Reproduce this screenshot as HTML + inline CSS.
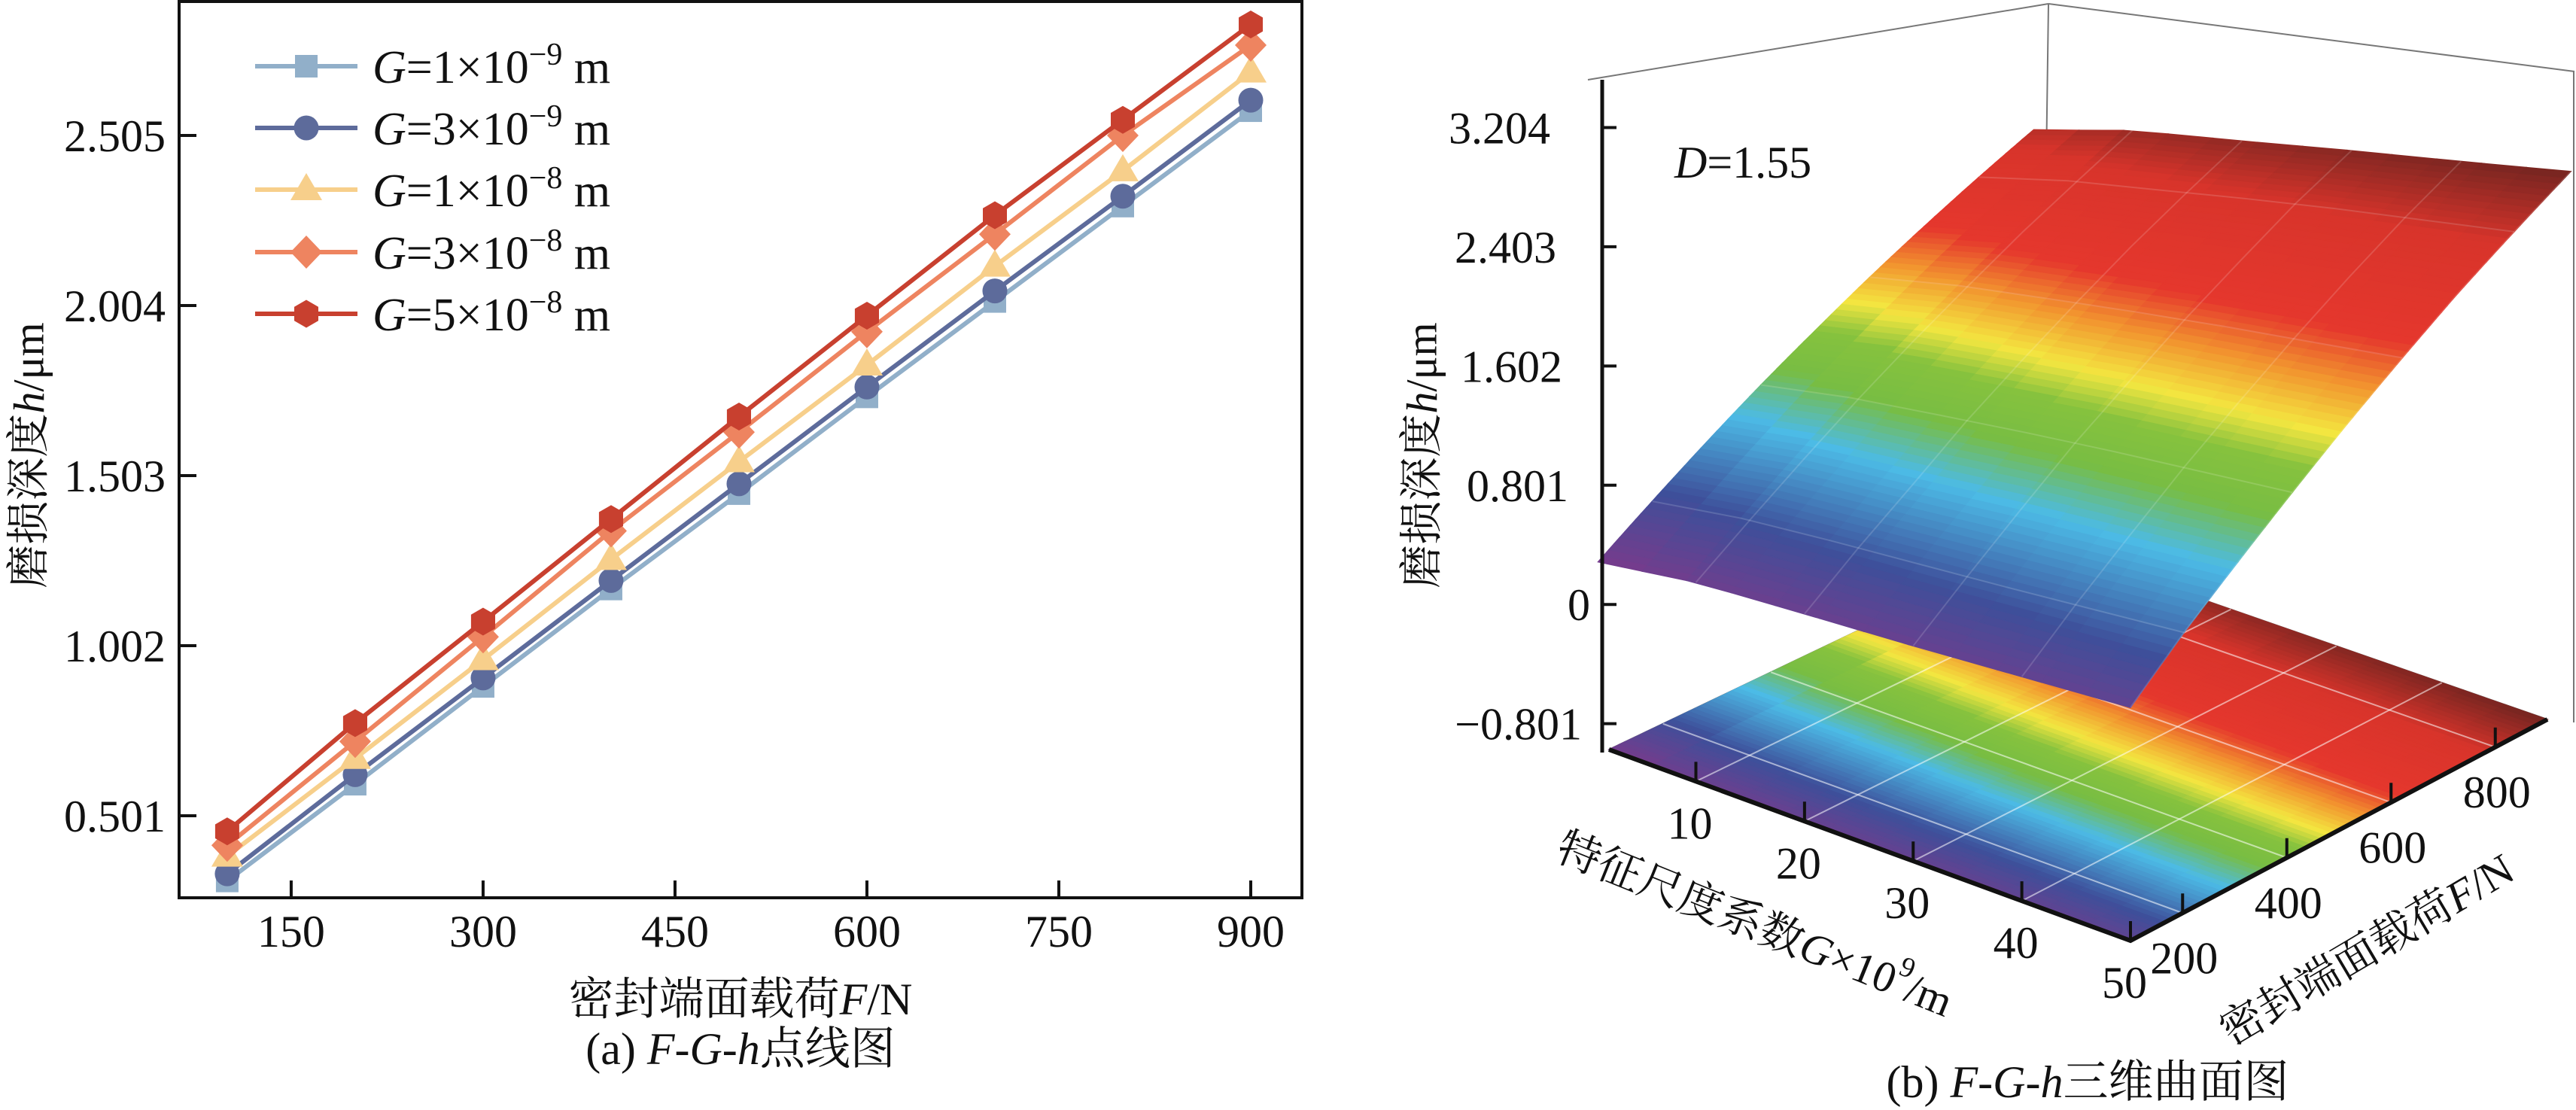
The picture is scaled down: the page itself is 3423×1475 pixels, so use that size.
<!DOCTYPE html>
<html><head><meta charset="utf-8"><style>
html,body{margin:0;padding:0;background:#fff;}
svg{display:block;font-family:"Liberation Serif","Noto Serif CJK SC",serif;}
svg text, svg tspan{font-family:"Liberation Serif","Noto Serif CJK SC",serif;fill:#111;}
</style></head><body>
<svg id="root" width="3423" height="1475" viewBox="0 0 3423 1475" xmlns="http://www.w3.org/2000/svg" font-family="'Liberation Serif','Noto Serif CJK SC',serif">
<rect x="0" y="0" width="3423" height="1475" fill="#fff"/>
<g id="left">
  <rect x="238" y="2" width="1492" height="1191" fill="none" stroke="#111" stroke-width="4"/>
  <g id="lxt"></g>
  <g id="lyt"></g>
  <g id="lser"></g>
  <g id="legend"></g>
  <text x="38" y="605" font-size="58" text-anchor="middle" dominant-baseline="central" transform="rotate(-90 38 605)">磨损深度<tspan font-style="italic">h</tspan>/μm</text>
  <text x="984" y="1348" font-size="60" text-anchor="middle">密封端面载荷<tspan font-style="italic">F</tspan>/N</text>
  <text x="984" y="1414" font-size="60" text-anchor="middle">(a) <tspan font-style="italic">F</tspan>-<tspan font-style="italic">G</tspan>-<tspan font-style="italic">h</tspan>点线图</text>
</g>
<g id="right">
  <g id="rback"></g>
  <g id="rfloor"></g>
  <g id="rplane"></g>
  <g id="raxes"></g>
  <text x="2225" y="236" font-size="60"><tspan font-style="italic">D</tspan>=1.55</text>
  <text x="1889" y="605" font-size="58" text-anchor="middle" dominant-baseline="central" transform="rotate(-90 1889 605)">磨损深度<tspan font-style="italic">h</tspan>/μm</text>
  <text x="2332" y="1228" font-size="58" text-anchor="middle" dominant-baseline="central" transform="rotate(22 2332 1228)">特征尺度系数<tspan font-style="italic">G</tspan>×10<tspan dy="-22" font-size="38">9</tspan><tspan dy="22">/m</tspan></text>
  <text x="3145" y="1262" font-size="58" text-anchor="middle" dominant-baseline="central" transform="rotate(-30.6 3145 1262)">密封端面载荷<tspan font-style="italic">F</tspan>/N</text>
  <text x="2774" y="1458" font-size="60" text-anchor="middle">(b) <tspan font-style="italic">F</tspan>-<tspan font-style="italic">G</tspan>-<tspan font-style="italic">h</tspan>三维曲面图</text>
</g>
</svg>
<script>
// ---------- left chart data ----------
const loads = [100,200,300,400,500,600,700,800,900];
const h_G1e9 = [0.309,0.594,0.882,1.169,1.450,1.735,2.016,2.297,2.578];
const h_G3e9 = [0.330,0.622,0.907,1.194,1.479,1.764,2.047,2.326,2.609];
const h_G1e8 = [0.382,0.670,0.961,1.256,1.544,1.829,2.120,2.401,2.692];
const h_G3e8 = [0.414,0.720,1.028,1.340,1.631,1.927,2.214,2.505,2.771];
const h_G5e8 = [0.455,0.774,1.073,1.375,1.677,1.974,2.270,2.551,2.832];
const xTicks = [150,300,450,600,750,900];
const yTicks = [0.501,1.002,1.503,2.004,2.505];
const legendLabels = [["1","9"],["3","9"],["1","8"],["3","8"],["5","8"]];
// ---------- right chart data ----------
const gVals = [1,10,20,30,40,50];
const fVals = [100,200,300,400,500,600,700,800,900];
const hGrid = [
 [0.309,0.594,0.882,1.169,1.450,1.735,2.016,2.297,2.578],
 [0.382,0.670,0.961,1.256,1.544,1.829,2.120,2.401,2.692],
 [0.400,0.700,0.990,1.300,1.590,1.880,2.170,2.450,2.730],
 [0.414,0.720,1.028,1.340,1.631,1.927,2.214,2.505,2.771],
 [0.435,0.747,1.050,1.358,1.654,1.950,2.242,2.528,2.800],
 [0.455,0.774,1.073,1.375,1.677,1.974,2.270,2.551,2.832]];
const zTicks = [3.204,2.403,1.602,0.801,0,-0.801];
const zTickLabels = ["3.204","2.403","1.602","0.801","0","\u22120.801"];
const gTicks = [10,20,30,40,50];
const fTicks = [200,400,600,800];

const NS="http://www.w3.org/2000/svg";
const FONT="'Liberation Serif','Noto Serif CJK SC',serif";
function mk(tag,parent,attrs){const e=document.createElementNS(NS,tag);for(const k in attrs)e.setAttribute(k,attrs[k]);if(tag==='text')e.setAttribute('font-family',FONT);parent.appendChild(e);return e;}

// ---- left scales
const X0=62.4,X1=940,PX0=238,PX1=1730;
function xs(v){return PX0+(v-X0)/(X1-X0)*(PX1-PX0);}
function ys(v){return 180+(2.505-v)*451.1;}
const lxt=document.getElementById('lxt'),lyt=document.getElementById('lyt');
xTicks.forEach(t=>{
  const l=mk('line',lxt,{x1:xs(t),x2:xs(t),y1:1193,y2:1170,stroke:'#111','stroke-width':4});
  
  
  const tx=mk('text',lxt,{x:xs(t),y:1258,'font-size':60,'text-anchor':'middle'});
  tx.textContent=t;
  
  
});
yTicks.forEach(t=>{
  const l=mk('line',lyt,{x1:238,x2:261,y1:ys(t),y2:ys(t),stroke:'#111','stroke-width':4});
  
  
  const tx=mk('text',lyt,{x:220,y:ys(t)+21,'font-size':60,'text-anchor':'end'});
  tx.textContent=t.toFixed(3);
  
  
});
const colors=['#91afc9','#5d6b9b','#f7cf8b','#ee8460','#c8402f'];
const shapes=['square','circle','triangle','diamond','hexagon'];
const series=[h_G1e9,h_G3e9,h_G1e8,h_G3e8,h_G5e8];
function marker(parent,shape,x,y,c){
  let e;
  if(shape==='square') e=mk('rect',parent,{x:x-15,y:y-15,width:30,height:30,fill:c});
  else if(shape==='circle') e=mk('circle',parent,{cx:x,cy:y,r:16.5,fill:c});
  else if(shape==='triangle') e=mk('polygon',parent,{points:`${x},${y-22} ${x+21},${y+14} ${x-21},${y+14}`,fill:c});
  else if(shape==='diamond') e=mk('polygon',parent,{points:`${x},${y-22} ${x+21},${y} ${x},${y+22} ${x-21},${y}`,fill:c});
  else {const r=18.5,p=[];for(let i=0;i<6;i++){const a=Math.PI/3*i-Math.PI/2;p.push((x+r*Math.cos(a)).toFixed(1)+','+(y+r*Math.sin(a)).toFixed(1));}e=mk('polygon',parent,{points:p.join(' '),fill:c});}
  return e;
}
const lser=document.getElementById('lser');
series.forEach((s,si)=>{
  const g=mk('g',lser,{});
  
  
  const pl=mk('polyline',g,{points:s.map((v,i)=>xs(loads[i])+','+ys(v)).join(' '),fill:'none',stroke:colors[si],'stroke-width':6});
  
  
  s.forEach((v,i)=>{
    const m=marker(g,shapes[si],xs(loads[i]),ys(v),colors[si]);
    
    
  });
});
const leg=document.getElementById('legend');
const legY=[88,170,252,335,417];
legendLabels.forEach((lb,i)=>{
  const g=mk('g',leg,{});
  
  
  mk('line',g,{x1:339,x2:475,y1:legY[i],y2:legY[i],stroke:colors[i],'stroke-width':6});
  marker(g,shapes[i],407,legY[i],colors[i]);
  const t=mk('text',g,{x:495,y:legY[i]+22,'font-size':62});
  t.innerHTML='<tspan font-style="italic">G</tspan>='+lb[0]+'×10<tspan dy="-24" font-size="42">\u2212'+lb[1]+'</tspan><tspan dy="24"> m</tspan>';
});

// ---- right chart projection
const A={x:2138,y:996},B={x:2831,y:1250},C={x:3385,y:956},D={x:2712,y:722};
const zsA=187,zsB=213,zsC=190,zsD=153, dxA=0,dxB=0,dxC=8.1,dxD=1.4, HF=-1.0;
const G0=2,G1=50,F0=100,F1=900;
function bil(a,b,c,d,g,f){return a*(1-g)*(1-f)+b*g*(1-f)+c*g*f+d*(1-g)*f;}
function proj(G,F,h){
  const g=(G-G0)/(G1-G0),f=(F-F0)/(F1-F0);
  const x=bil(A.x,B.x,C.x,D.x,g,f),y=bil(A.y,B.y,C.y,D.y,g,f);
  const zs=bil(zsA,zsB,zsC,zsD,g,f),dx=bil(dxA,dxB,dxC,dxD,g,f);
  return {x:x+(h-HF)*dx,y:y-(h-HF)*zs};
}
const stops=[[0,[123,58,139]],[0.14,[62,79,154]],[0.29,[76,187,230]],[0.38,[120,189,67]],[0.46,[134,194,62]],[0.52,[243,230,64]],[0.60,[242,149,47]],[0.68,[229,55,45]],[0.86,[216,52,43]],[1,[111,36,32]]];
function cmap(h){
  let n=(h-0.30)/(2.85-0.30);n=Math.max(0,Math.min(1,n));
  for(let i=1;i<stops.length;i++){if(n<=stops[i][0]){const a=stops[i-1],b=stops[i],t=(n-a[0])/(b[0]-a[0]);
    return 'rgb('+a[1].map((v,k)=>Math.round(v+(b[1][k]-v)*t)).join(',')+')';}}
  return 'rgb(111,36,32)';
}
function hAt(G,F){
  let gi=0;while(gi<gVals.length-2&&G>gVals[gi+1])gi++;
  let fi=0;while(fi<fVals.length-2&&F>fVals[fi+1])fi++;
  const tg=(G-gVals[gi])/(gVals[gi+1]-gVals[gi]),tf=(F-fVals[fi])/(fVals[fi+1]-fVals[fi]);
  const a=hGrid[gi][fi],b=hGrid[gi+1][fi],c=hGrid[gi+1][fi+1],d=hGrid[gi][fi+1];
  return a*(1-tg)*(1-tf)+b*tg*(1-tf)+c*tg*tf+d*(1-tg)*tf;
}
const NF=80,NG=12;
function drawSurface(parent,floor){
  const Gmin=floor?G0:gVals[0],Gmax=gVals[gVals.length-1],Fmin=fVals[0],Fmax=fVals[fVals.length-1];
  for(let j=0;j<NG;j++)for(let i=0;i<NF;i++){
    const g0=Gmin+(Gmax-Gmin)*j/NG,g1=Gmin+(Gmax-Gmin)*(j+1)/NG;
    const f0=Fmin+(Fmax-Fmin)*i/NF,f1=Fmin+(Fmax-Fmin)*(i+1)/NF;
    const pts=[[g0,f0],[g1,f0],[g1,f1],[g0,f1]].map(p=>{const q=proj(p[0],p[1],floor?HF:hAt(p[0],p[1]));return q.x.toFixed(1)+','+q.y.toFixed(1);});
    const c=cmap(hAt((g0+g1)/2,(f0+f1)/2));
    const poly=mk('polygon',parent,{points:pts.join(' '),fill:c,stroke:c,'stroke-width':1.5});
    
    
  }
  const gl=floor?'rgba(255,255,255,0.55)':'rgba(255,255,255,0.15)';
  gTicks.forEach(G=>{const p=[];for(let k=0;k<=8;k++){const F=Fmin+(Fmax-Fmin)*k/8;const q=proj(G,F,floor?HF:hAt(G,F));p.push(q.x+','+q.y);}
    const l=mk('polyline',parent,{points:p.join(' '),fill:'none',stroke:gl,'stroke-width':2});
    
    });
  fTicks.forEach(F=>{const p=[];for(let k=0;k<=6;k++){const G=Gmin+(Gmax-Gmin)*k/6;const q=proj(G,F,floor?HF:hAt(G,F));p.push(q.x+','+q.y);}
    const l=mk('polyline',parent,{points:p.join(' '),fill:'none',stroke:gl,'stroke-width':2});
    
    });
}
const rback=document.getElementById('rback');
[[2722,5,2110,106],[2722,5,3421,95],[3420,95,3420,960],[2722,5,2712,722],[A.x,A.y,D.x,D.y],[D.x,D.y,C.x,C.y]].forEach(s=>{
  const l=mk('line',rback,{x1:s[0],y1:s[1],x2:s[2],y2:s[3],stroke:'#777','stroke-width':2});
  
  
});
drawSurface(document.getElementById('rfloor'),true);
drawSurface(document.getElementById('rplane'),false);
const rax=document.getElementById('raxes');
function zy(v){return 1001-(v-HF)*197.8;}
const za=mk('line',rax,{x1:2129,y1:106,x2:2129,y2:1000,stroke:'#111','stroke-width':5});


const zr=[2060,2068,2076,2084,2113,2102];
zTicks.forEach((t,i)=>{
  const l=mk('line',rax,{x1:2129,x2:2148,y1:zy(t),y2:zy(t),stroke:'#111','stroke-width':4});
  
  
  const tx=mk('text',rax,{x:zr[i],y:zy(t)+21,'font-size':60,'text-anchor':'end'});
  tx.textContent=zTickLabels[i];
  
  
});
const e1=mk('polyline',rax,{points:`${A.x},${A.y} ${B.x},${B.y} ${C.x},${C.y}`,fill:'none',stroke:'#111','stroke-width':6,'stroke-linejoin':'miter'});


gTicks.forEach(G=>{
  const p=proj(G,F0,HF);
  const l=mk('line',rax,{x1:p.x,y1:p.y,x2:p.x,y2:p.y-26,stroke:'#111','stroke-width':4});
  
  
  const tx=mk('text',rax,{x:p.x-8,y:p.y+76,'font-size':60,'text-anchor':'middle'});
  tx.textContent=G;
  
  
});
fTicks.forEach(F=>{
  const p=proj(G1,F,HF);
  const l=mk('line',rax,{x1:p.x,y1:p.y,x2:p.x,y2:p.y-26,stroke:'#111','stroke-width':4});
  
  
  const tx=mk('text',rax,{x:p.x+2,y:p.y+80,'font-size':60,'text-anchor':'middle'});
  tx.textContent=F;
  
  
});
document.querySelectorAll('text, tspan').forEach(el=>el.setAttribute('font-family',FONT));
</script>
</body></html>
